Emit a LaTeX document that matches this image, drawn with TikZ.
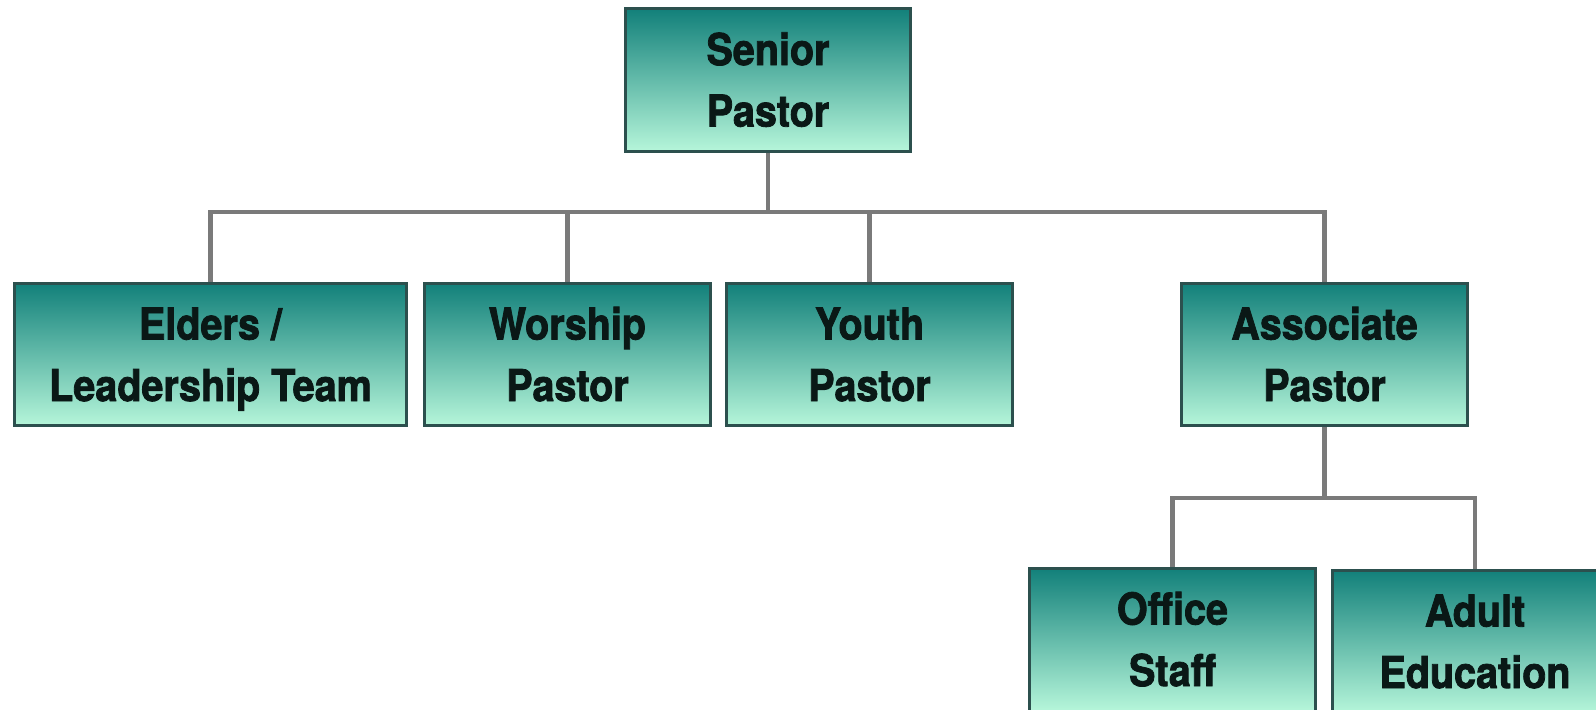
\documentclass[tikz,border=0pt]{standalone}
\usepackage{fontspec}
\newfontfamily\boxfont{texgyreheros-bold.otf}[FakeStretch=0.9,FakeBold=1.8]
\definecolor{tealtop}{RGB}{18,128,122}
\definecolor{mintbot}{RGB}{182,246,218}
\definecolor{boxedge}{RGB}{44,80,78}
\definecolor{linkgray}{RGB}{122,122,122}
\definecolor{inkdark}{RGB}{10,24,22}

\begin{document}
\begin{tikzpicture}
	[x=0.02cm,y=-0.02cm,line join=miter,
	post/.style={rectangle,draw=boxedge,line width=1.7pt,top color=tealtop,bottom color=mintbot,
		minimum width=5.72cm,minimum height=2.86cm,inner sep=0pt,align=center,text=inkdark,
		font=\boxfont\fontsize{25}{35}\selectfont,text height=53pt,text depth=0pt},
	link/.style={draw=linkgray,line width=2.3pt}]
	\useasboundingbox (0,0) rectangle (1596,710);
	\clip (0,0) rectangle (1596,710);
	\node[post] (sp) at (768,80) {Senior\\Pastor};
	\node[post,minimum width=7.86cm] (el) at (210.5,354.5) {Elders /\\Leadership Team};
	\node[post] (wo) at (567.5,354.5) {Worship\\Pastor};
	\node[post] (yo) at (869.5,354.5) {Youth\\Pastor};
	\node[post] (as) at (1324.5,354.5) {Associate\\Pastor};
	\node[post] (of) at (1172.5,639.5) {Office\\Staff};
	\node[post] (ad) at (1475,641.5) {Adult\\Education};
	\coordinate (bus) at (768,212);
	\coordinate (sub) at (1324.5,498);
	\draw[link] (sp.south) -- (bus);
	\draw[link] (el.north) -- (el.north |- bus) -| (as.north);
	\draw[link] (wo.north) -- (wo.north |- bus);
	\draw[link] (yo.north) -- (yo.north |- bus);
	\draw[link] (as.south) -- (sub);
	\draw[link] (of.north) -- (of.north |- sub) -| (ad.north);
\end{tikzpicture}
\end{document}
